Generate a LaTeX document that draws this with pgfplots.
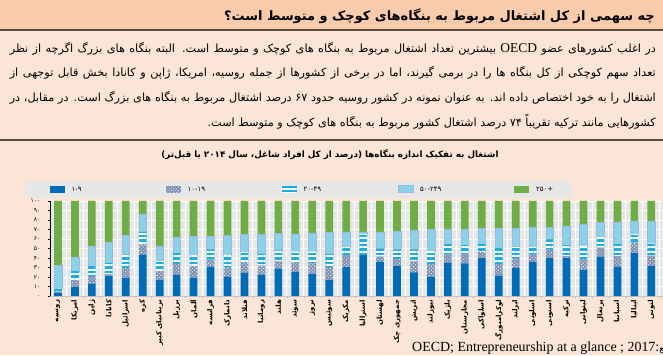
\documentclass[border=0pt]{standalone}
\usepackage{pgfplots}
\pgfplotsset{compat=1.18}
\usepackage{pgfplotstable}
\usepackage{fontspec}
\setmainfont{Liberation Serif}
\newfontfamily\fa[Script=Arabic]{DejaVu Sans}
\usetikzlibrary{patterns,patterns.meta}
\TeXXeTstate=1
\definecolor{pagebg}{HTML}{FBE5D6}
\definecolor{titlebg}{HTML}{F8CBAD}
\definecolor{rulecol}{HTML}{5A4B44}
\definecolor{plotbg}{HTML}{E6E6E6}
\definecolor{legendbg}{HTML}{E7E7E7}
\definecolor{c1}{HTML}{006BB6}
\definecolor{c2}{HTML}{7F93B5}
\definecolor{c3}{HTML}{1EAEDB}
\definecolor{c4}{HTML}{8AD2E7}
\definecolor{c4b}{HTML}{A3B8E0}
\definecolor{c5}{HTML}{70AD47}
\newcommand\K{\kern0pt}
\newcommand\lstrut{\rule[-2.5bp]{0pt}{9bp}}

\pgfplotstableread{
x a b c d e
0 3.5 1.5 3 24 68
1 9.5 7.5 9.5 14 59.5
2 13 8 11 20 48
3 21.5 1.5 12 22 43
4 19.5 10 14 20 36.5
5 43.5 11 13 19 13.5
6 17.5 9 10.5 15.5 47.5
7 22.5 11.5 11.5 16 38.5
8 19.5 12 11.5 19.5 37.5
9 31 7.5 10.5 13.5 37.5
10 20.5 9.5 13 21 36
11 24.5 11 11 18 35.5
12 22.5 9.5 12.5 20.5 35
13 29 7.5 11.5 18 34
14 25.5 10 11.5 18.5 34.5
15 23.5 11.5 12 19.5 33.5
16 17 13.5 14 22.5 33
17 30.5 12.5 8.5 16 32.5
18 43.5 0 22 2 32.5
19 36 5.5 8.5 17.5 32.5
20 31.5 7.5 10 19 32
21 25 11.5 12.5 20 31
22 20.5 13.5 13.5 22.5 30
23 35 8.5 11.5 15 30
24 34.5 10 9 16.5 30
25 40 6.5 8.5 16 29
26 21.5 12.5 17 20 29
27 29.5 10.5 11.5 20 28.5
28 36 7.5 8 20.5 28
29 40 9 10.5 13 27.5
30 40 2 11.5 20 26.5
31 28 10.5 14 23 24.5
32 41.5 9.5 11 15.5 22.5
33 31 11 13 23 22
34 45.5 11 9 13 21.5
35 31.5 11 13 23 21.5
36 59 11 8 10 12
}\data

\begin{document}
\begin{tikzpicture}[x=1bp,y=1bp]
\path[use as bounding box] (0,0) rectangle (663,355);
\fill[pagebg] (0,0) rectangle (663,355);
\fill[titlebg] (0,325) rectangle (663,355);
\draw[rulecol,line width=2bp] (0,325)--(663,325);
\draw[rulecol,line width=1.5bp] (0,215)--(663,215);

\node[anchor=east,inner sep=0] at (655,339) {\fa\bfseries\fontsize{13}{15}\selectfont\beginR چه سهمی از کل اشتغال مربوط به بنگاه‌های کوچک و متوسط است\K؟\endR};

\node[anchor=east,inner sep=0] at (656,306) {\fa\fontsize{11.3}{13}\selectfont\hbox to 646bp{\beginR در اغلب کشورهای عضو {\rmfamily\fontsize{13.5}{15}\selectfont OECD} بیشترین تعداد اشتغال مربوط به بنگاه های کوچک و متوسط است\K. البته بنگاه های بزرگ اگرچه از نظر\endR}};
\node[anchor=east,inner sep=0] at (656,282) {\fa\fontsize{11.3}{13}\selectfont\hbox to 646bp{\beginR تعداد سهم کوچکی از کل بنگاه ها را در برمی گیرند\K، اما در برخی از کشورها از جمله روسیه\K، امریکا\K، ژاپن و کانادا بخش قابل توجهی از\endR}};
\node[anchor=east,inner sep=0] at (656,257.5) {\fa\fontsize{11.3}{13}\selectfont\hbox to 646bp{\beginR اشتغال را به خود اختصاص داده اند\K. به عنوان نمونه در کشور روسیه حدود ۶۷ درصد اشتغال مربوط به بنگاه های بزرگ است\K. در مقابل\K، در\endR}};
\node[anchor=east,inner sep=0] at (656,233.5) {\fa\fontsize{11.3}{13}\selectfont\hbox to 646bp{\hfill\beginR کشورهایی مانند ترکیه تقریباً ۷۴ درصد اشتغال کشور مربوط به بنگاه های کوچک و متوسط است\K.\endR}};

\node[inner sep=0] at (330,200) {\fa\bfseries\fontsize{8.8}{10}\selectfont\beginR اشتغال به تفکیک اندازه بنگاه‌ها \K(\K درصد از کل افراد شاغل\K، سال ۲۰۱۴ یا قبل‌تر\K)\K\endR};

\node[anchor=base west,inner sep=0] at (412,3.5) {{\rmfamily\fontsize{14}{16}\selectfont OECD; Entrepreneurship at a glance ; 2017:}{\fa\fontsize{9}{11}\selectfont منبع}};

\begin{axis}[
  at={(29.5,61.7)}, anchor=south west, scale only axis,
  width=623.5bp, height=95.3bp,
  ybar stacked, bar width=7.7bp,
  xmin=-0.47, xmax=36.31, ymin=0, ymax=100,
  axis background/.style={fill=plotbg},
  axis x line*=bottom, axis y line*=left,
  x axis line style={draw=gray!45,-},
  y axis line style={draw=black,line width=0.6bp,-},
  xtick={0,...,36},
  xticklabels={{\beginR روسیه\endR},{\beginR امریکا\endR},{\beginR ژاپن\endR},{\beginR کانادا\endR},{\beginR اسرائیل\endR},{\beginR کره\endR},{\beginR بریتانیای کبیر\endR},{\beginR برزیل\endR},{\beginR آلمان\endR},{\beginR فرانسه\endR},{\beginR دانمارک\endR},{\beginR فنلاند\endR},{\beginR رومانیا\endR},{\beginR هلند\endR},{\beginR سوئد\endR},{\beginR نروژ\endR},{\beginR سوئیس\endR},{\beginR مکزیک\endR},{\beginR استرالیا\endR},{\beginR لهستان\endR},{\beginR جمهوری چک\endR},{\beginR اتریش\endR},{\beginR نیوزلند\endR},{\beginR بلژیک\endR},{\beginR مجارستان\endR},{\beginR اسلواکی\endR},{\beginR لوکزامبورگ\endR},{\beginR ایرلند\endR},{\beginR اسلونی\endR},{\beginR استونی\endR},{\beginR ترکیه\endR},{\beginR لیتوانی\endR},{\beginR پرتغال\endR},{\beginR اسپانیا\endR},{\beginR ایتالیا\endR},{\beginR لتونی\endR},{\beginR یونان\endR}},
  major x tick style={draw=none},
  minor xtick={0.5,1.5,...,35.5},
  minor x tick style={gray!60},
  xminorgrids, minor x grid style={white,line width=0.9bp},
  minor tick length=2bp,
  ytick={0,10,...,100},
  yticklabels={۰,۱۰,۲۰,۳۰,۴۰,۵۰,۶۰,۷۰,۸۰,۹۰,۱۰۰},
  ymajorgrids, major y grid style={white,line width=0.4bp},
  tick align=outside, major tick length=2.5bp,
  major y tick style={black,line width=0.5bp},
  xticklabel style={rotate=90,anchor=east,inner sep=1bp,font=\fa\bfseries\fontsize{7}{8}\selectfont},
  yticklabel style={font=\fa\fontsize{6}{7}\selectfont,inner sep=1bp,xshift=-6bp},
  legend style={at={(-0.0409,1.0315)},anchor=south west,
    fill=legendbg,draw=none,legend columns=5,inner xsep=25bp,inner ysep=4.5bp,
    font=\fa\fontsize{7}{8}\selectfont,nodes={inner sep=0pt},column sep=0pt,
    /tikz/every odd column/.append style={column sep=7bp}},
  legend image code/.code={\fill[#1] (0bp,-3.5bp) rectangle (15bp,3.5bp);},
]
\addplot[fill=c1,draw=none] table[x=x,y=a]{\data};
\addlegendentry{\makebox[94bp][l]{\lstrut ۱-۹}}
\addplot[fill=c2,draw=none,postaction={pattern={Dots[angle=45,distance=2.5bp,radius=0.6bp]},pattern color=white}] table[x=x,y=b]{\data};
\addlegendentry{\makebox[94bp][l]{\lstrut ۱۰-۱۹}}
\addplot[fill=c3,draw=none,postaction={pattern={Lines[angle=0,distance=4.5bp,line width=2bp]},pattern color=white}] table[x=x,y=c]{\data};
\addlegendentry{\makebox[94bp][l]{\lstrut ۲۰-۴۹}}
\addplot[fill=c4,draw=c4b,line width=0.5bp] table[x=x,y=d]{\data};
\addlegendentry{\makebox[94bp][l]{\lstrut ۵۰-۲۴۹}}
\addplot[fill=c5,draw=none] table[x=x,y=e]{\data};
\addlegendentry{\makebox[10bp][l]{\lstrut ۲۵۰\K+}}
\end{axis}
\end{tikzpicture}
\end{document}
